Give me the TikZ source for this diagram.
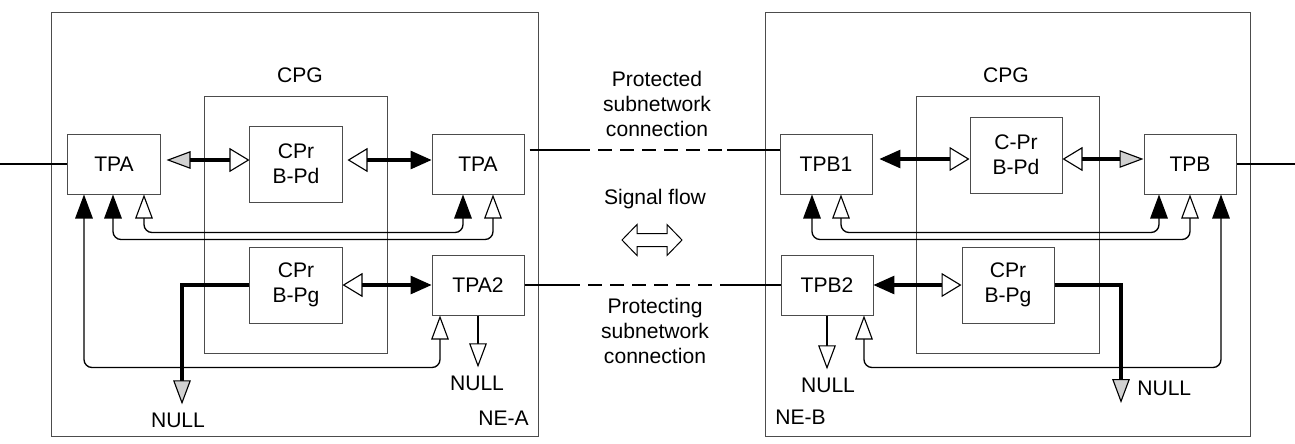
\documentclass[tikz,border=0pt]{standalone}
\usepackage{fontspec}
\setmainfont{Liberation Sans}
\usetikzlibrary{arrows.meta, calc}
\colorlet{boxGray}{black!70}
\colorlet{tipGray}{black!18}
\tikzset{
  wT/.tip={Triangle[length=0.6cm, width=0.44cm, line width=0.8pt, fill=white]},
  bT/.tip={Triangle[length=0.6cm, width=0.44cm, line width=0.8pt, fill=black]},
  wF/.tip={Triangle[length=0.5cm, width=0.6cm, line width=0.8pt, fill=white]},
  bF/.tip={Triangle[length=0.52cm, width=0.46cm, line width=0.8pt, fill=black]},
  gF/.tip={Triangle[length=0.6cm, width=0.44cm, line width=0.8pt, fill=tipGray]}
}

\begin{document}
\begin{tikzpicture}[auto, x=0.025cm, y=-0.025cm,
    font=\fontsize{15}{17.8}\selectfont,
    tp/.style={draw=boxGray, line width=0.7pt, minimum width=2.3cm, minimum height=1.5cm, inner sep=0pt, align=center},
    cpr/.style={tp, minimum height=1.9cm},
    frame/.style={draw=boxGray, line width=0.7pt, inner sep=0pt},
    lbl/.style={inner sep=0pt, align=center},
    sig/.style={line width=0.95pt},
    bus/.style={line width=2.9pt},
    dashlink/.style={sig, dash pattern=on 0.35cm off 0.2cm, dash phase=0.35cm}]
		\useasboundingbox (0,0) rectangle (1295,443);
		%%%%%%%%%%%%%
		\node[frame, minimum width=12.15cm, minimum height=10.575cm] (neA) at (295,224.5) {};
		\node[frame, minimum width=12.1cm, minimum height=10.575cm] (neB) at (1008,224.5) {};
		\node[frame, minimum width=4.55cm, minimum height=6.4cm] (cpgA) at (296,225) {};
		\node[frame, minimum width=4.55cm, minimum height=6.4cm] (cpgB) at (1008,225) {};
		\node[lbl] (cpgAl) at (300,75) {CPG};
		\node[lbl] (cpgBl) at (1006,75) {CPG};
		\node[lbl, anchor=east] (neAl) at (529,418) {NE-A};
		\node[lbl, anchor=west] (neBl) at (775,417) {NE-B};
		%%%%%%%%%%%%%
		\node[tp] (tpaL) at (114,164) {TPA};
		\node[cpr] (prdA) at (296,164) {CPr\\B-Pd};
		\node[tp] (tpaR) at (478,164) {TPA};
		\node[cpr] (prgA) at (296,285) {CPr\\B-Pg};
		\node[tp] (tpa2) at (478,285) {TPA2};
		\node[tp] (tpb1) at (826,164) {TPB1};
		\node[cpr] (prdB) at (1016,155) {C-Pr\\B-Pd};
		\node[tp] (tpb) at (1190,164) {TPB};
		\node[tp] (tpb2) at (827,285) {TPB2};
		\node[cpr] (prgB) at (1008,285) {CPr\\B-Pg};
		%%%%%%%%%%%%%
		\node[lbl] (nullA) at (178,420) {NULL};
		\node[lbl] (nullA2) at (477,383) {NULL};
		\node[lbl] (nullB2) at (828,385) {NULL};
		\node[lbl, anchor=west] (nullB) at (1137,388) {NULL};
		\node[lbl] (pted) at (657,104) {Protected\\subnetwork\\connection};
		\node[lbl] (pting) at (655,331) {Protecting\\subnetwork\\connection};
		\node[lbl] (flow) at (655,199) {Signal flow};
		%%%%%%%%%%%%%
		\coordinate (inA) at (0,164);
		\coordinate (outB) at (1295,164);
		\coordinate (d1) at (590,150); \coordinate (d2) at (727,150);
		\coordinate (d3) at (580,285); \coordinate (d4) at (720,285);
		\coordinate (sigA) at (652,240);
		%%%%%%%%%%%%%
		\draw[sig] (inA) to (tpaL.west);
		\draw[bus, gF-wF] ($(tpaL.east)+(6,-4)$) to ($(prdA.west)+(0,-4)$);
		\draw[bus, wF-bF] ($(prdA.east)+(5,-4)$) to ($(tpaR.west)+(0,-4)$);
		\draw[sig, bT-wT, rounded corners=0.2cm] ($(tpaL.south)+(-1,0)$) -- ++(0,45) -| ($(tpaR.south)+(15,0)$);
		\draw[sig, wT-bT, rounded corners=0.2cm] ($(tpaL.south)+(30,0)$) -- ++(0,38) -| ($(tpaR.south)+(-15,0)$);
		\draw[sig, bT-wT, rounded corners=0.2cm] ($(tpaL.south)+(-30,0)$) -- ++(0,173) -| ($(tpa2.south)+(-38,0)$);
		\draw[bus, -gF] (prgA.west) -| ($(nullA.north)+(4,-8)$);
		\draw[bus, wF-bF] (prgA.east) to (tpa2.west);
		\draw[sig, -wT] (tpa2.south) to ($(tpa2.south |- nullA2.north)+(0,-8)$);
		%%%%%%%%%%%%%
		\draw[sig] ($(tpaR.east)+(5,-14)$) to (d1);
		\draw[dashlink] (d1) to (d2);
		\draw[sig] (d2) to ($(tpb1.west)+(0,-14)$);
		\draw[sig] (tpa2.east) to (d3);
		\draw[dashlink] (d3) to (d4);
		\draw[sig] (d4) to (tpb2.west);
		\draw[line width=0.7pt] ($(sigA)+(-30,0)$) -- ++(15,-15.5) -- ++(0,9) -- ++(30,0) -- ++(0,-9)
		  -- ++(15,15.5) -- ++(-15,15.5) -- ++(0,-9) -- ++(-30,0) -- ++(0,9) -- cycle;
		%%%%%%%%%%%%%
		\draw[bus, bF-wF] ($(tpb1.east)+(7,-5)$) to ($(prdB.west)+(0,4)$);
		\draw[bus, wF-gF] ($(prdB.east)+(0,4)$) to ($(tpb.west)+(0,-5)$);
		\draw[bus, bF-wF] (tpb2.east) to (prgB.west);
		\draw[bus, -gF] (prgB.east) -| ($(nullB.west)+(-16,15)$);
		\draw[sig, -wT] (tpb2.south) to ($(tpb2.south |- nullB2.north)+(0,-8)$);
		\draw[sig, bT-wT, rounded corners=0.2cm] ($(tpb1.south)+(-14,0)$) -- ++(0,45) -| (tpb.south);
		\draw[sig, wT-bT, rounded corners=0.2cm] ($(tpb1.south)+(15,0)$) -- ++(0,38) -| ($(tpb.south)+(-31,0)$);
		\draw[sig, wT-bT, rounded corners=0.2cm] ($(tpb2.south)+(37,0)$) -- ++(0,52) -| ($(tpb.south)+(31,0)$);
		\draw[sig] (tpb.east) to (outB);
\end{tikzpicture}
\end{document}
